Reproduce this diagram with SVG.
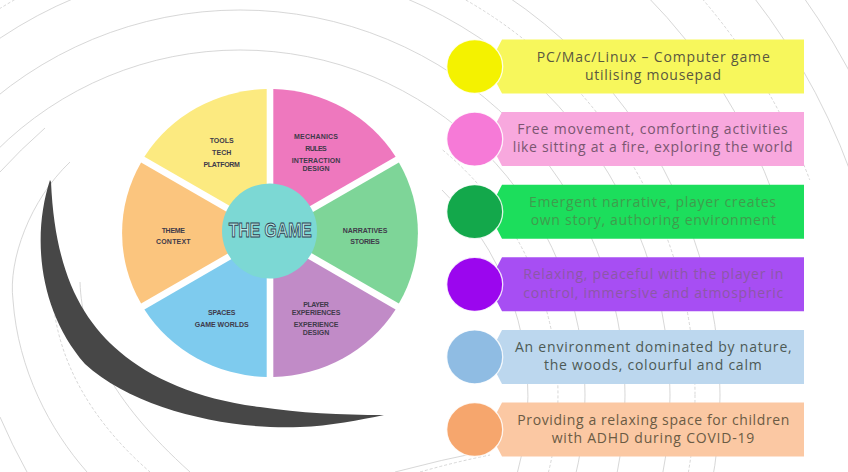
<svg xmlns="http://www.w3.org/2000/svg" width="848" height="472" viewBox="0 0 848 472">
<style>
.bg{fill:none;stroke:#cdcdcd;stroke-width:0.8}
.dash{stroke-dasharray:3 2}
.lbl{font-family:"Liberation Sans",Arial,sans-serif;font-weight:bold;font-size:7px;fill:#3f3a4a;text-anchor:middle}
.bt{font-family:"Open Sans","Liberation Sans",sans-serif;font-size:14px;text-anchor:middle}
.dot{stroke:#ffffff;stroke-width:1.3;stroke-opacity:0.85}
</style>
<rect width="848" height="472" fill="#ffffff"/>
<g id="background-lines">
  <circle class="bg" cx="240" cy="395" r="345"/>
  <circle class="bg" cx="240" cy="395" r="385"/>
  <circle class="bg" cx="240" cy="395" r="430"/>
  <circle class="bg dash" cx="240" cy="395" r="455"/>
  <circle class="bg" cx="240" cy="395" r="480"/>
  <path class="bg" d="M646,-5 A570,570 0 0 1 775.6,200"/>
  <path class="bg dash" d="M699,-5 A609,609 0 0 1 809.8,180"/>
  <path class="bg" d="M752,-5 A650,650 0 0 1 860,200"/>
  <path class="bg" d="M802,-5 A690,690 0 0 1 902,200"/>
  <path class="bg" d="M442,190 A288,288 0 0 1 517.5,472"/>
  <path class="bg dash" d="M442.7,150 A318,318 0 0 1 548.5,472"/>
  <path class="bg" d="M0,172 Q20,150 45,128"/>
  <path class="bg" d="M0,417 Q12,445 27,472"/>
  <path class="bg" d="M70,162 C30,200 8,260 13,300 C18,370 50,430 87,472"/>
  <path class="bg dash" d="M53,300 C58,360 90,420 150,472"/>
  <path class="bg" d="M80,282 C82,340 110,400 190,472"/>
  <path class="bg" d="M395,472 Q440,460 490,450"/>
  <path class="bg dash" d="M420,472 Q455,462 490,455"/>
</g>
<g id="swoosh">
  <path fill="#474747" d="M50,180 C32,235 38,310 85,364 C135,410 230,430 300,427 C330,426 360,420 384,415 C340,415 300,413 260,407 C200,400 150,378 120,352 C80,318 55,270 51,182 Z"/>
</g>
<g id="wheel">
  <g id="seg-mechanics">
    <path fill="#EE78BE" d="M273.3,227.3 L395.6,156.7 A148,144 0 0 0 273.3,89 Z"/>
    <text class="lbl" x="316" y="139.2" textLength="44">MECHANICS</text>
    <text class="lbl" x="316" y="150.8" textLength="21.5">RULES</text>
    <text class="lbl" x="316" y="162.5" textLength="48.5">INTERACTION</text>
    <text class="lbl" x="316" y="170.8" textLength="27">DESIGN</text>
  </g>
  <g id="seg-tools">
    <path fill="#FCEA80" d="M266.7,227.3 L266.7,89 A148,144 0 0 0 144.4,156.7 Z"/>
    <text class="lbl" x="221.7" y="143.2" textLength="24">TOOLS</text>
    <text class="lbl" x="221.7" y="154.8" textLength="19.3">TECH</text>
    <text class="lbl" x="221.7" y="166.5" textLength="36.5">PLATFORM</text>
  </g>
  <g id="seg-theme">
    <path fill="#FBC57E" d="M263.4,233 L141.1,162.4 A148,144 0 0 0 141.1,303.6 Z"/>
    <text class="lbl" x="173.3" y="232.5" textLength="23.3">THEME</text>
    <text class="lbl" x="173.3" y="243.5" textLength="34.7">CONTEXT</text>
  </g>
  <g id="seg-spaces">
    <path fill="#7ECBEE" d="M266.7,238.7 L144.4,309.4 A148,144 0 0 0 266.7,377 Z"/>
    <text class="lbl" x="221.7" y="315.2" textLength="27.3">SPACES</text>
    <text class="lbl" x="221.7" y="326.8" textLength="54">GAME WORLDS</text>
  </g>
  <g id="seg-player">
    <path fill="#C18BC7" d="M273.3,238.7 L273.3,377 A148,144 0 0 0 395.6,309.4 Z"/>
    <text class="lbl" x="316" y="306.5" textLength="25.7">PLAYER</text>
    <text class="lbl" x="316" y="314.5" textLength="48.7">EXPERIENCES</text>
    <text class="lbl" x="316" y="326.8" textLength="44.7">EXPERIENCE</text>
    <text class="lbl" x="316" y="334.8" textLength="26.7">DESIGN</text>
  </g>
  <g id="seg-narratives">
    <path fill="#7ED598" d="M276.6,233 L398.9,303.6 A148,144 0 0 0 398.9,162.4 Z"/>
    <text class="lbl" x="365" y="232.5" textLength="44.7">NARRATIVES</text>
    <text class="lbl" x="365" y="243.5" textLength="29.3">STORIES</text>
  </g>
  <g id="the-game">
    <circle cx="269.5" cy="231" r="47.5" fill="#7CD8D4"/>
    <text x="270.3" y="236.7" font-family="Liberation Sans, Arial, sans-serif" font-weight="bold" font-size="19.5" fill="#b8ece8" stroke="#2e3f50" stroke-width="0.9" text-anchor="middle" textLength="83" lengthAdjust="spacingAndGlyphs">THE GAME</text>
  </g>
</g>
<g id="item-platform">
  <path fill="#F7F75C" d="M502,39.5 H804 V93.5 H502 L488,66.5 Z"/>
  <ellipse class="dot" cx="474.7" cy="66.5" rx="28" ry="27" fill="#F4F200"/>
  <text class="bt" fill="#5a5840" x="653.3" y="61.5" textLength="233">PC/Mac/Linux – Computer game</text>
  <text class="bt" fill="#5a5840" x="653" y="79.8" textLength="136">utilising mousepad</text>
</g>
<g id="item-movement">
  <path fill="#F8A8DE" d="M502,112.1 H804 V166.1 H502 L488,139.1 Z"/>
  <ellipse class="dot" cx="474.7" cy="139.1" rx="28" ry="27" fill="#F67AD7"/>
  <text class="bt" fill="#7a5670" x="652.5" y="134.1" textLength="270.5">Free movement, comforting activities</text>
  <text class="bt" fill="#7a5670" x="652.7" y="152.4" textLength="280">like sitting at a fire, exploring the world</text>
</g>
<g id="item-narrative">
  <path fill="#1CDE5C" d="M502,184.7 H804 V238.7 H502 L488,211.7 Z"/>
  <ellipse class="dot" cx="474.7" cy="211.7" rx="28" ry="27" fill="#13A84B"/>
  <text class="bt" fill="#3f9c4d" x="652.5" y="206.7" textLength="247">Emergent narrative, player creates</text>
  <text class="bt" fill="#3f9c4d" x="653.3" y="225" textLength="245.3">own story, authoring environment</text>
</g>
<g id="item-relaxing">
  <path fill="#A74EF3" d="M502,257.3 H804 V311.3 H502 L488,284.3 Z"/>
  <ellipse class="dot" cx="474.7" cy="284.3" rx="28" ry="27" fill="#9B06EE"/>
  <text class="bt" fill="#8c58a6" x="653.3" y="279.3" textLength="260">Relaxing, peaceful with the player in</text>
  <text class="bt" fill="#8c58a6" x="653.3" y="297.6" textLength="260">control, immersive and atmospheric</text>
</g>
<g id="item-environment">
  <path fill="#BCD7EE" d="M502,329.9 H804 V383.9 H502 L488,356.9 Z"/>
  <ellipse class="dot" cx="474.7" cy="356.9" rx="28" ry="27" fill="#8FBCE3"/>
  <text class="bt" fill="#4d5a55" x="653.3" y="351.9" textLength="276.7">An environment dominated by nature,</text>
  <text class="bt" fill="#4d5a55" x="652.8" y="370.2" textLength="217.7">the woods, colourful and calm</text>
</g>
<g id="item-adhd">
  <path fill="#FBC8A3" d="M502,402.5 H804 V456.5 H502 L488,429.5 Z"/>
  <ellipse class="dot" cx="474.7" cy="429.5" rx="28" ry="27" fill="#F6A66D"/>
  <text class="bt" fill="#6b5b44" x="653.3" y="424.5" textLength="272">Providing a relaxing space for children</text>
  <text class="bt" fill="#6b5b44" x="653" y="442.8" textLength="202.7">with ADHD during COVID-19</text>
</g>
</svg>
